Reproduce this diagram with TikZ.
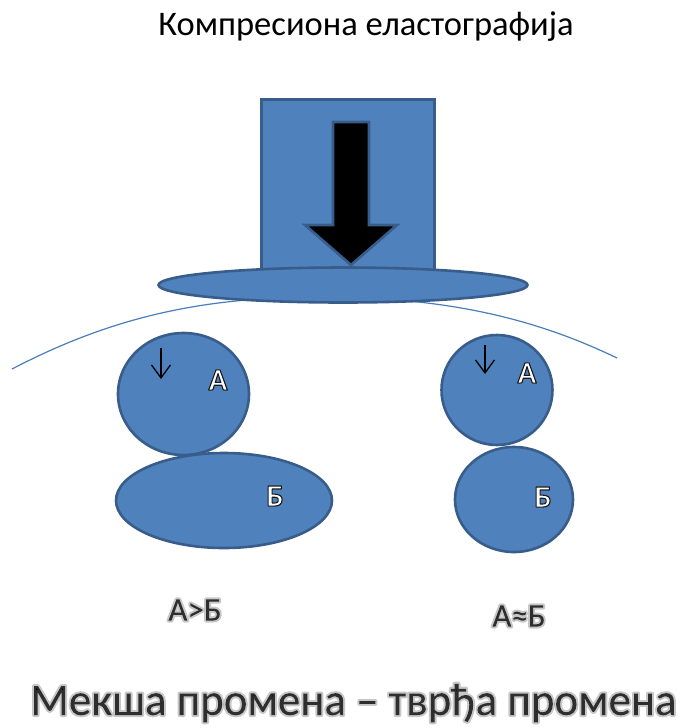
\documentclass[tikz,border=0pt]{standalone}
\usepackage{fontspec}
\setmainfont{Carlito}
\usetikzlibrary{arrows.meta,shapes.geometric}

\definecolor{shapefill}{HTML}{4F81BD}
\definecolor{shapeedge}{HTML}{385D8A}
\definecolor{curveline}{HTML}{4A7EBB}

% glyphs filled and stroked (PDF text render mode 2):
% #1 stroke grey level, #2 stroke width, #3 stroke opacity, #4 text
\newcommand\strokedglyphs[4]{%
  \pgfsetstrokeopacity{#3}%
  \special{pdf:literal direct #1 G #2 w 1 j 2 Tr}#4\special{pdf:literal direct 0 Tr}%
  \pgfsetstrokeopacity{1}}

\tikzset{
  blob/.style={ellipse, fill=shapefill, draw=shapeedge, line width=2.6pt,
               inner sep=0pt},
  press/.style={fill=shapefill, draw=shapeedge, line width=2.6pt},
  pusharrow/.style={line width=1.3pt,
                    -{Straight Barb[length=13pt, width=19pt, line width=1.3pt]}},
  rimlabel/.style={text=white, font={\fontsize{31}{31}\selectfont\bfseries}},
  glowlabel/.style={text=black},
}

\begin{document}
\begin{tikzpicture}[x=1pt, y=-1pt]
\useasboundingbox (0,0) rectangle (680,728);

% title
\node[font={\fontsize{34.5}{34.5}\selectfont}] (title) at (366,27)
  {Компресиона еластографија};

% tissue surface
\coordinate (skinL) at (12,369);
\coordinate (skinR) at (617,358);
\draw[curveline, line width=1.2pt] (skinL)
  .. controls (110,318) and (200,297) .. (320,297)
  .. controls (440,297) and (530,316) .. (skinR);

% compression plate with its pressure arrow
\node[press, rectangle, minimum width=173pt, minimum height=195pt, anchor=north west]
  (plate) at (260,98) {};
\draw[fill=black, draw=shapeedge, line width=2.6pt]
  (333,122) -- (369,122) -- (369,225) -- (397,225) -- (351,265)
  -- (305,225) -- (333,225) -- cycle;
\node[blob, minimum width=369pt, minimum height=35pt] (brim) at (343,285) {};

% soft inclusion
\node[blob, minimum width=131pt, minimum height=122pt] (softA) at (183.5,394) {};
\node[blob, minimum width=216pt, minimum height=95pt] (softB) at (224,500.5) {};
\coordinate (sa1) at (161,348);
\coordinate (sa2) at (161,379);
\draw[pusharrow] (sa1) -- (sa2);
\node[rimlabel] (softAlbl) at (218,380) {\strokedglyphs{0.1}{1.1}{1}{А}};
\node[rimlabel] (softBlbl) at (275,496) {\strokedglyphs{0.1}{1.1}{1}{Б}};

% hard inclusion
\node[blob, minimum width=111pt, minimum height=110pt] (hardA) at (497,390) {};
\node[blob, minimum width=118pt, minimum height=105pt] (hardB) at (514,499.5) {};
\coordinate (ha1) at (485,345);
\coordinate (ha2) at (485,374);
\draw[pusharrow] (ha1) -- (ha2);
\node[rimlabel] (hardAlbl) at (527,373) {\strokedglyphs{0.1}{1.1}{1}{А}};
\node[rimlabel] (hardBlbl) at (543,497) {\strokedglyphs{0.1}{1.1}{1}{Б}};

% relations
\node[glowlabel, font={\fontsize{33}{33}\selectfont}] (softRel) at (195,610)
  {\strokedglyphs{0.45}{4}{0.4}{А>Б}};
\node[glowlabel, font={\fontsize{33}{33}\selectfont}] (hardRel) at (519,616)
  {\strokedglyphs{0.45}{4}{0.4}{А≈Б}};

% caption
\node[glowlabel, font={\fontsize{45}{45}\selectfont}] (caption) at (353.5,703)
  {\strokedglyphs{0.45}{4}{0.4}{Мекша промена – тврђа промена}};
\end{tikzpicture}
\end{document}
